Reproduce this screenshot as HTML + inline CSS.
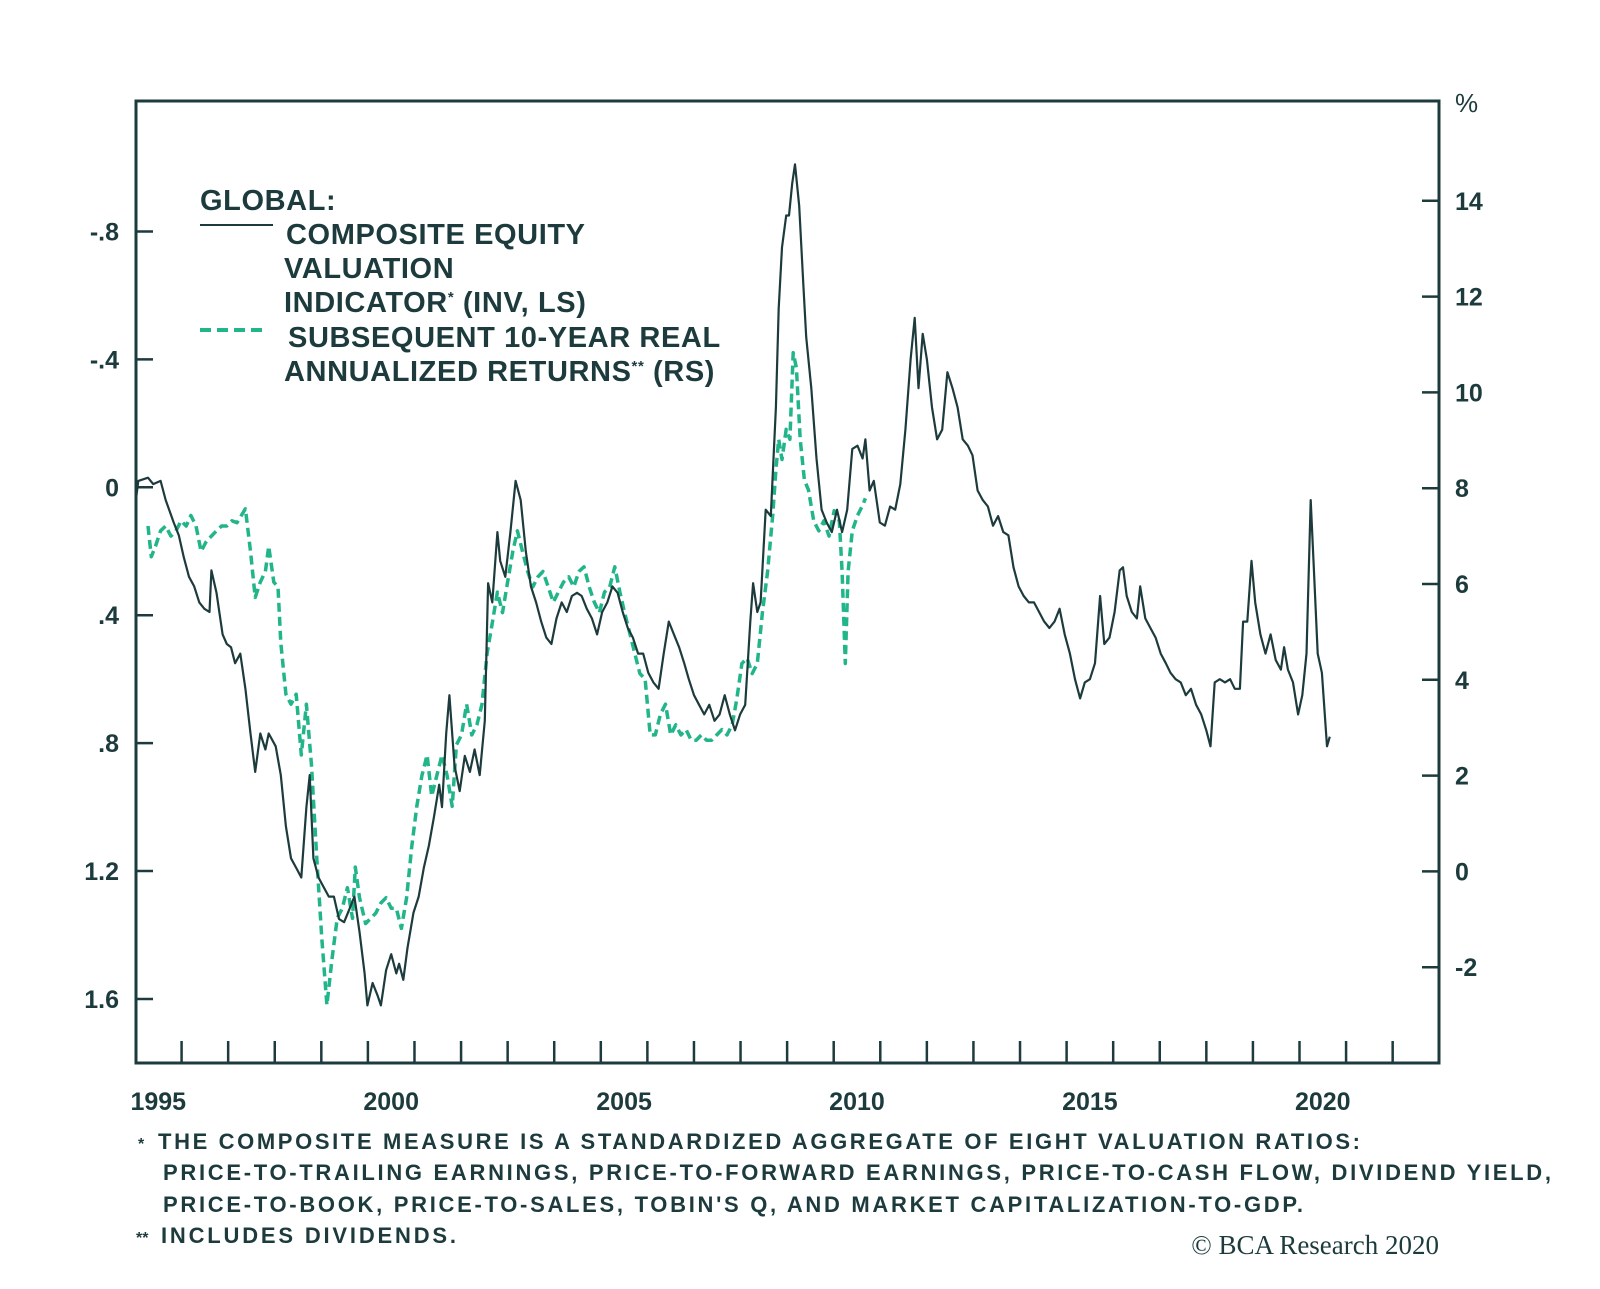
<!DOCTYPE html>
<html><head><meta charset="utf-8"><style>
html,body{margin:0;padding:0;background:#fff;}
svg{display:block;}
text{font-family:"Liberation Sans",sans-serif;fill:#1d3b3d;font-weight:bold;}
</style></head><body>
<svg id="chart" width="1600" height="1289" viewBox="0 0 1600 1289" xmlns="http://www.w3.org/2000/svg">
<rect x="136" y="101" width="1303" height="962" fill="none" stroke="#1d3b3d" stroke-width="3"/>
<g id="axes"></g>
<g id="series"></g>
<g style="letter-spacing:0.6px">
<text x="200" y="210" font-size="29">GLOBAL:</text>
<line x1="200" y1="225" x2="273" y2="225" stroke="#1d3b3d" stroke-width="2"/>
<text x="286" y="244" font-size="29">COMPOSITE EQUITY</text>
<text x="284" y="278" font-size="29">VALUATION</text>
<text x="284" y="312" font-size="29">INDICATOR<tspan font-size="15" dy="-10">*</tspan><tspan dy="10"> (INV, LS)</tspan></text>
<line x1="200" y1="330" x2="267" y2="330" stroke="#22b58a" stroke-width="4" stroke-dasharray="11,6"/>
<text x="288" y="347" font-size="29">SUBSEQUENT 10-YEAR REAL</text>
<text x="284" y="381" font-size="29">ANNUALIZED RETURNS<tspan font-size="15" dy="-10">**</tspan><tspan dy="10"> (RS)</tspan></text>
</g>
<text x="1455" y="112" font-size="26" style="font-weight:normal">%</text>
<g font-size="22">
<text x="138" y="1149" font-size="16">*</text>
<text x="158" y="1149" font-size="22" textLength="1202">THE COMPOSITE MEASURE IS A STANDARDIZED AGGREGATE OF EIGHT VALUATION RATIOS:</text>
<text x="163" y="1180" font-size="22" textLength="1388">PRICE-TO-TRAILING EARNINGS, PRICE-TO-FORWARD EARNINGS, PRICE-TO-CASH FLOW, DIVIDEND YIELD,</text>
<text x="163" y="1212" font-size="22" textLength="1140">PRICE-TO-BOOK, PRICE-TO-SALES, TOBIN'S Q, AND MARKET CAPITALIZATION-TO-GDP.</text>
<text x="136" y="1243" font-size="16">**</text>
<text x="161" y="1243" font-size="22" textLength="295">INCLUDES DIVIDENDS.</text>
</g>
<text x="1439" y="1254" font-size="27" text-anchor="end" style="font-family:'Liberation Serif',serif;font-weight:normal">© BCA Research 2020</text>
</svg>
<script>
const leftTicks = [-0.8, -0.4, 0, 0.4, 0.8, 1.2, 1.6];
const leftTickLabels = ["-.8", "-.4", "0", ".4", ".8", "1.2", "1.6"];
const rightTicks = [14, 12, 10, 8, 6, 4, 2, 0, -2];
const rightTickLabels = ["14", "12", "10", "8", "6", "4", "2", "0", "-2"];
const yearLabels = [1995, 2000, 2005, 2010, 2015, 2020];
const yearTicks = [1996,1997,1998,1999,2000,2001,2002,2003,2004,2005,2006,2007,2008,2009,2010,2011,2012,2013,2014,2015,2016,2017,2018,2019,2020,2021,2022];

const compDates = [1995.02,1995.07,1995.28,1995.39,1995.55,1995.66,1995.83,1995.94,1996.05,1996.16,1996.27,1996.38,1996.49,1996.60,1996.64,1996.75,1996.88,1996.97,1997.06,1997.15,1997.26,1997.37,1997.48,1997.58,1997.69,1997.80,1997.87,1998.02,1998.13,1998.24,1998.35,1998.46,1998.57,1998.68,1998.75,1998.83,1998.94,1999.05,1999.16,1999.27,1999.38,1999.49,1999.60,1999.71,1999.82,1999.93,1999.99,2000.10,2000.21,2000.28,2000.39,2000.50,2000.61,2000.67,2000.76,2000.85,2000.98,2001.09,2001.20,2001.31,2001.42,2001.53,2001.59,2001.68,2001.75,2001.86,2001.97,2002.08,2002.19,2002.29,2002.40,2002.51,2002.58,2002.67,2002.78,2002.84,2002.95,2003.06,2003.17,2003.28,2003.39,2003.50,2003.61,2003.72,2003.83,2003.94,2004.05,2004.16,2004.27,2004.38,2004.49,2004.59,2004.70,2004.81,2004.92,2005.03,2005.14,2005.25,2005.36,2005.47,2005.58,2005.69,2005.80,2005.91,2006.02,2006.13,2006.24,2006.35,2006.46,2006.57,2006.68,2006.79,2006.89,2007.00,2007.11,2007.22,2007.33,2007.44,2007.55,2007.66,2007.77,2007.88,2007.99,2008.10,2008.21,2008.27,2008.36,2008.43,2008.54,2008.65,2008.76,2008.82,2008.89,2008.98,2009.04,2009.11,2009.17,2009.26,2009.35,2009.41,2009.52,2009.63,2009.74,2009.85,2009.96,2010.07,2010.18,2010.29,2010.40,2010.51,2010.62,2010.68,2010.77,2010.86,2010.99,2011.10,2011.21,2011.32,2011.43,2011.54,2011.65,2011.74,2011.82,2011.91,2012.00,2012.11,2012.22,2012.33,2012.44,2012.55,2012.66,2012.77,2012.88,2012.98,2013.09,2013.20,2013.31,2013.42,2013.53,2013.64,2013.75,2013.86,2013.97,2014.08,2014.19,2014.30,2014.41,2014.52,2014.63,2014.74,2014.85,2014.96,2015.07,2015.18,2015.29,2015.39,2015.50,2015.61,2015.72,2015.81,2015.92,2016.03,2016.14,2016.21,2016.29,2016.40,2016.51,2016.58,2016.69,2016.80,2016.91,2017.02,2017.13,2017.23,2017.34,2017.45,2017.56,2017.67,2017.78,2017.89,2018.00,2018.09,2018.18,2018.29,2018.40,2018.51,2018.61,2018.72,2018.79,2018.88,2018.97,2019.05,2019.16,2019.27,2019.38,2019.49,2019.60,2019.67,2019.75,2019.86,2019.97,2020.06,2020.15,2020.24,2020.30,2020.39,2020.48,2020.59,2020.65];
const compValues = [0.04,-0.02,-0.03,-0.01,-0.02,0.04,0.11,0.15,0.22,0.28,0.31,0.36,0.38,0.39,0.26,0.33,0.46,0.49,0.50,0.55,0.52,0.63,0.77,0.89,0.77,0.82,0.77,0.81,0.90,1.06,1.16,1.19,1.22,1.00,0.90,1.16,1.22,1.25,1.28,1.28,1.35,1.36,1.32,1.28,1.39,1.52,1.62,1.55,1.59,1.62,1.51,1.46,1.52,1.49,1.54,1.44,1.33,1.28,1.19,1.12,1.03,0.93,1.00,0.77,0.65,0.87,0.95,0.84,0.89,0.82,0.90,0.73,0.30,0.36,0.14,0.23,0.28,0.14,-0.02,0.04,0.20,0.31,0.36,0.42,0.47,0.49,0.41,0.36,0.39,0.34,0.33,0.34,0.38,0.41,0.46,0.39,0.36,0.31,0.33,0.39,0.44,0.47,0.52,0.52,0.58,0.61,0.63,0.52,0.42,0.46,0.50,0.55,0.60,0.65,0.68,0.71,0.68,0.73,0.71,0.65,0.71,0.76,0.71,0.68,0.42,0.30,0.39,0.36,0.07,0.09,-0.25,-0.56,-0.75,-0.85,-0.85,-0.95,-1.01,-0.88,-0.63,-0.47,-0.31,-0.09,0.07,0.11,0.14,0.07,0.14,0.07,-0.12,-0.13,-0.09,-0.15,0.01,-0.02,0.11,0.12,0.06,0.07,-0.01,-0.18,-0.40,-0.53,-0.31,-0.48,-0.40,-0.25,-0.15,-0.18,-0.36,-0.31,-0.25,-0.15,-0.13,-0.10,0.01,0.04,0.06,0.12,0.09,0.14,0.15,0.25,0.31,0.34,0.36,0.36,0.39,0.42,0.44,0.42,0.38,0.46,0.52,0.60,0.66,0.61,0.60,0.55,0.34,0.49,0.47,0.39,0.26,0.25,0.34,0.39,0.41,0.31,0.41,0.44,0.47,0.52,0.55,0.58,0.60,0.61,0.65,0.63,0.68,0.71,0.76,0.81,0.61,0.60,0.61,0.60,0.63,0.63,0.42,0.42,0.23,0.36,0.46,0.52,0.46,0.54,0.57,0.50,0.57,0.61,0.71,0.65,0.52,0.04,0.23,0.52,0.58,0.81,0.78];

const retDates = [1995.28,1995.35,1995.44,1995.55,1995.66,1995.77,1995.88,1995.99,1996.10,1996.20,1996.31,1996.42,1996.53,1996.64,1996.75,1996.86,1996.97,1997.08,1997.19,1997.37,1997.48,1997.58,1997.69,1997.80,1997.87,1997.98,1998.07,1998.13,1998.24,1998.35,1998.46,1998.57,1998.68,1998.79,1998.90,1999.01,1999.12,1999.23,1999.34,1999.45,1999.56,1999.67,1999.73,1999.82,1999.95,2000.06,2000.17,2000.28,2000.39,2000.50,2000.61,2000.72,2000.83,2000.94,2001.05,2001.16,2001.27,2001.37,2001.48,2001.59,2001.70,2001.81,2001.90,2002.01,2002.12,2002.23,2002.34,2002.45,2002.56,2002.67,2002.78,2002.89,2003.00,2003.11,2003.21,2003.32,2003.43,2003.54,2003.65,2003.76,2003.87,2003.98,2004.09,2004.20,2004.31,2004.42,2004.53,2004.64,2004.75,2004.86,2004.97,2005.08,2005.19,2005.30,2005.41,2005.51,2005.62,2005.73,2005.84,2005.95,2006.06,2006.17,2006.28,2006.39,2006.50,2006.61,2006.72,2006.83,2006.94,2007.05,2007.16,2007.27,2007.38,2007.49,2007.60,2007.71,2007.82,2007.92,2008.03,2008.14,2008.25,2008.36,2008.47,2008.58,2008.69,2008.76,2008.82,2008.89,2008.98,2009.06,2009.13,2009.20,2009.28,2009.37,2009.46,2009.57,2009.68,2009.79,2009.90,2010.01,2010.12,2010.18,2010.25,2010.31,2010.40,2010.51,2010.62,2010.68];
const retValues = [7.21,6.57,6.79,7.11,7.21,7.00,7.11,7.32,7.21,7.43,7.21,6.68,6.89,7.00,7.11,7.21,7.21,7.32,7.28,7.57,6.68,5.72,6.04,6.26,6.79,6.04,5.94,4.77,3.70,3.49,3.70,2.43,3.49,2.21,0.30,-1.40,-2.79,-1.83,-0.98,-0.77,-0.34,-0.98,0.09,-0.55,-1.09,-0.98,-0.87,-0.66,-0.55,-0.77,-0.77,-1.19,-0.55,0.51,1.36,2.00,2.43,1.57,2.00,2.43,2.00,1.36,2.64,2.85,3.49,2.85,3.06,3.49,4.55,5.19,5.83,5.40,6.04,6.68,7.11,6.68,6.26,5.94,6.15,6.26,5.94,5.62,5.83,6.04,6.15,5.94,6.26,6.36,5.94,5.62,5.40,5.83,5.94,6.36,5.83,5.40,4.98,4.55,4.13,4.02,2.85,2.85,3.28,3.49,2.85,3.06,2.85,2.96,2.74,2.74,2.85,2.74,2.74,2.85,2.96,2.85,3.06,3.60,4.34,4.45,4.13,4.34,5.40,6.26,7.43,8.38,9.02,8.60,9.23,9.02,10.83,10.51,9.02,8.17,7.96,7.32,7.11,7.32,7.00,7.53,7.32,6.26,4.34,6.26,7.11,7.43,7.64,7.79];

const NS = "http://www.w3.org/2000/svg";
const X0 = 135, XPY = 46.58;
const xScale = yr => X0 + (yr - 1995) * XPY;
const yLeft = v => 487.3 + v * 319.8;
const yRight = r => 871.4 - r * 47.9;
const axes = document.getElementById('axes');
const series = document.getElementById('series');
function mk(tag, attrs, parent) {
  const el = document.createElementNS(NS, tag);
  for (const k in attrs) el.setAttribute(k, attrs[k]);
  parent.appendChild(el);
  return el;
}
leftTicks.forEach((v, i) => {
  const y = yLeft(v);
  const t = mk('line', {x1: 136, x2: 153, y1: y, y2: y, stroke: '#1d3b3d', 'stroke-width': 2.5}, axes);
  
  
  const l = mk('text', {x: 119, y: y + 9, 'font-size': 25, 'text-anchor': 'end'}, axes);
  l.textContent = leftTickLabels[i];
  
  
});
rightTicks.forEach((v, i) => {
  const y = yRight(v);
  const t = mk('line', {x1: 1422, x2: 1439, y1: y, y2: y, stroke: '#1d3b3d', 'stroke-width': 2.5}, axes);
  
  
  const l = mk('text', {x: 1455, y: y + 9, 'font-size': 25}, axes);
  l.textContent = rightTickLabels[i];
  
  
});
yearTicks.forEach(yr => {
  const x = xScale(yr);
  const t = mk('line', {x1: x, x2: x, y1: 1041, y2: 1063, stroke: '#1d3b3d', 'stroke-width': 2.5}, axes);
  
  
});
yearLabels.forEach(yr => {
  const l = mk('text', {x: xScale(yr + 0.5), y: 1110, 'font-size': 25, 'text-anchor': 'middle'}, axes);
  l.textContent = yr;
  
  
});
const retPts = retDates.map((d, i) => xScale(d).toFixed(1) + ',' + yRight(retValues[i]).toFixed(1)).join(' ');
const retLine = mk('polyline', {points: retPts, fill: 'none', stroke: '#22b58a', 'stroke-width': 3.5, 'stroke-dasharray': '9,5', 'stroke-linejoin': 'round'}, series);


const compPts = compDates.map((d, i) => xScale(d).toFixed(1) + ',' + yLeft(compValues[i]).toFixed(1)).join(' ');
const compLine = mk('polyline', {points: compPts, fill: 'none', stroke: '#1d3b3d', 'stroke-width': 2.2, 'stroke-linejoin': 'round'}, series);


</script>
</body></html>
